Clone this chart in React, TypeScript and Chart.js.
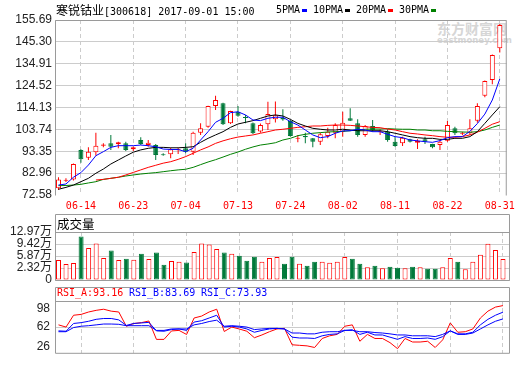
import React, { useEffect, useRef } from 'react';
import { Chart, registerables } from 'chart.js';

Chart.register(...registerables);

// ---------------- data ----------------
const dates = [
  '06-09', '06-12', '06-13', '06-14', '06-15', '06-16', '06-19', '06-20', '06-21', '06-22',
  '06-23', '06-26', '06-27', '06-28', '06-29', '06-30', '07-03', '07-04', '07-05', '07-06',
  '07-07', '07-10', '07-11', '07-12', '07-13', '07-14', '07-17', '07-18', '07-19', '07-20',
  '07-21', '07-24', '07-25', '07-26', '07-27', '07-28', '07-31', '08-01', '08-02', '08-03',
  '08-04', '08-07', '08-08', '08-09', '08-10', '08-11', '08-14', '08-15', '08-16', '08-17',
  '08-18', '08-21', '08-22', '08-23', '08-24', '08-25', '08-28', '08-29', '08-30', '08-31',
];

const openP = [
  75.8, 79.3, 80.0, 94.0, 90.3, 92.9, 96.0, 97.1, 96.8, 97.1,
  94.3, 98.7, 96.3, 96.3, 91.8, 91.9, 93.8, 94.75, 93.15, 102.2,
  105.0, 114.85, 116.1, 106.6, 112.1, 109.6, 106.6, 102.7, 106.2, 108.5,
  109.2, 107.7, 99.3, 100.6, 99.5, 97.9, 100.6, 102.2, 102.65, 109.0,
  106.6, 101.1, 105.35, 102.4, 102.65, 97.9, 97.1, 99.0, 97.4, 99.0,
  96.8, 96.3, 98.4, 104.25, 101.7, 101.9, 107.9, 119.7, 127.2, 142.25,
];
const highP = [
  81.0, 80.5, 87.5, 94.3, 95.2, 102.2, 97.1, 101.1, 97.9, 97.9,
  95.6, 100.0, 98.7, 96.8, 92.4, 95.0, 95.0, 97.1, 102.6, 106.6,
  115.0, 119.7, 116.4, 112.6, 114.85, 110.6, 107.0, 106.5, 116.9, 117.0,
  113.3, 108.2, 101.1, 102.2, 99.6, 102.2, 104.55, 106.6, 112.15, 113.75,
  108.5, 105.8, 108.2, 103.8, 103.8, 100.3, 100.3, 99.3, 99.0, 100.3,
  96.9, 98.7, 107.7, 105.0, 102.6, 108.5, 116.1, 126.9, 139.3, 153.8,
];
const lowP = [
  75.0, 78.8, 79.5, 87.9, 89.2, 91.2, 95.2, 93.95, 94.8, 93.5,
  93.5, 96.3, 95.5, 89.2, 91.2, 90.0, 92.0, 92.4, 91.6, 101.1,
  104.5, 112.95, 105.8, 106.3, 109.8, 106.6, 101.5, 102.2, 103.45, 107.0,
  107.9, 100.3, 97.6, 97.1, 95.2, 96.3, 99.5, 99.5, 100.3, 107.7,
  100.3, 100.3, 102.65, 101.1, 97.9, 95.5, 95.85, 97.5, 94.4, 96.8,
  94.75, 93.95, 97.9, 101.1, 101.0, 101.1, 106.9, 119.0, 125.2, 140.2,
];
const closeP = [
  80.0, 79.8, 87.3, 89.5, 93.15, 96.0, 96.6, 95.5, 97.6, 94.0,
  95.2, 96.8, 97.4, 91.6, 91.5, 94.3, 94.2, 93.15, 102.2, 104.25,
  114.85, 117.7, 106.2, 112.5, 110.2, 109.1, 101.9, 105.8, 111.05, 110.4,
  108.4, 100.6, 99.7, 100.0, 97.9, 101.4, 102.65, 105.8, 106.9, 107.9,
  101.1, 105.35, 103.45, 102.9, 98.7, 95.85, 99.8, 97.9, 98.4, 97.9,
  95.2, 97.9, 105.8, 101.9, 102.2, 104.25, 114.85, 126.7, 139.1, 153.3,
];

// volume in 万 (10k shares)
const volume = [
  5.39, 4.29, 4.57, 11.78, 8.68, 9.86, 5.94, 7.95, 5.39, 5.75,
  5.48, 7.12, 5.66, 7.40, 4.11, 5.11, 4.93, 4.75, 7.58, 9.86,
  9.59, 8.40, 7.40, 7.12, 6.58, 5.21, 6.30, 4.93, 5.94, 6.21,
  4.38, 6.30, 4.38, 3.84, 4.93, 4.93, 4.66, 4.93, 6.21, 5.75,
  4.38, 3.47, 3.84, 3.20, 3.56, 3.29, 3.20, 3.56, 3.47, 3.01,
  3.01, 3.47, 5.94, 4.93, 2.92, 4.93, 6.85, 9.77, 8.13, 5.66,
];

const ma5 = [
  77.3, 77.8, 81.0, 83.2, 86.8, 91.25, 93.15, 95.2, 96.0, 96.0,
  96.0, 96.3, 96.0, 95.5, 94.4, 94.2, 94.2, 93.15, 94.75, 98.7,
  102.65, 107.1, 109.0, 111.7, 112.1, 110.6, 108.2, 107.9, 109.0, 109.5,
  109.5, 107.4, 105.8, 103.45, 101.1, 99.8, 100.3, 101.9, 103.0, 103.1,
  103.8, 103.45, 102.65, 102.65, 101.4, 100.3, 99.8, 98.7, 98.3, 97.9,
  97.6, 98.4, 99.8, 100.3, 100.3, 102.8, 106.5, 111.0, 117.7, 127.7,
];
const ma10 = [
  75.3, 76.2, 77.3, 78.9, 80.5, 82.9, 84.9, 87.3, 89.2, 91.1,
  92.9, 94.0, 94.75, 95.2, 95.2, 95.0, 95.0, 95.2, 95.5, 97.6,
  99.5, 101.1, 102.65, 104.7, 106.3, 107.1, 107.9, 109.0, 110.1, 110.6,
  110.1, 108.5, 106.6, 105.35, 104.25, 103.8, 103.45, 103.45, 103.8, 103.45,
  103.1, 103.1, 103.1, 103.1, 102.65, 101.9, 101.1, 100.3, 99.8, 99.5,
  99.5, 99.0, 99.0, 99.5, 99.5, 100.3, 102.65, 106.6, 110.6, 114.5,
];
const ma20 = [
  null, null, null, null, null, 79.7, 80.0, 80.5, 81.0, 82.1,
  83.3, 84.5, 85.7, 86.7, 87.7, 88.4, 89.5, 90.8, 92.4, 94.0,
  95.4, 97.1, 98.3, 99.3, 100.1, 100.6, 101.1, 101.9, 102.65, 103.45,
  103.8, 104.25, 104.7, 105.0, 105.35, 105.35, 105.65, 105.8, 105.8, 105.65,
  105.35, 105.0, 104.7, 104.55, 103.9, 103.45, 102.65, 101.9, 101.55, 101.1,
  100.75, 100.3, 100.0, 100.0, 100.3, 101.1, 102.4, 104.25, 106.2, 107.4,
];
const ma30 = [
  77.0, 77.1, 77.3, 77.65, 78.3, 78.9, 80.0, 80.5, 81.0, 81.6,
  82.1, 82.55, 82.9, 83.2, 83.65, 84.1, 84.5, 84.8, 85.7, 87.0,
  88.25, 89.35, 90.6, 91.9, 93.0, 94.3, 95.4, 96.3, 96.8, 97.4,
  98.7, 99.5, 100.75, 101.4, 101.9, 102.2, 102.5, 102.65, 102.8, 103.1,
  103.45, 103.8, 103.9, 103.9, 104.1, 103.9, 103.8, 103.8, 103.45, 103.45,
  103.1, 103.1, 102.8, 102.65, 102.5, 102.4, 102.65, 103.45, 104.7, 105.8,
];

const rsiA = [
  65.3, 62.1, 79.2, 80.4, 83.9, 86.3, 87.9, 85.1, 83.9, 63.3,
  67.3, 68.5, 70.9, 44.3, 44.3, 56.5, 57.3, 51.4, 75.2, 78.0,
  83.9, 87.9, 55.7, 62.1, 59.3, 56.1, 46.7, 50.7, 55.4, 59.4,
  60.2, 36.5, 35.7, 34.9, 32.6, 45.6, 49.5, 51.5, 63.3, 65.3,
  41.6, 51.5, 45.6, 45.6, 39.6, 30.9, 45.6, 40.5, 40.5, 41.6,
  32.6, 43.7, 68.1, 54.6, 55.4, 59.4, 75.2, 85.1, 91.0, 93.16,
];
const rsiB = [
  56.6, 56.1, 67.3, 68.5, 70.5, 73.3, 74.5, 74.5, 72.5, 64.5,
  67.3, 68.1, 68.9, 56.6, 56.1, 58.5, 59.4, 57.3, 69.3, 71.3,
  75.2, 79.2, 62.1, 63.3, 62.1, 59.4, 54.6, 57.3, 59.4, 60.2,
  59.4, 47.5, 46.3, 46.3, 45.6, 49.5, 51.5, 52.3, 57.3, 58.2,
  51.5, 54.6, 50.7, 50.7, 47.5, 44.4, 48.3, 45.6, 45.6, 46.3,
  44.4, 48.3, 56.6, 52.3, 52.3, 54.6, 65.3, 73.3, 79.2, 83.69,
];
const rsiC = [
  55.4, 55.4, 61.4, 63.3, 64.1, 65.3, 66.5, 66.5, 66.1, 64.1,
  64.1, 64.1, 64.1, 57.3, 57.3, 59.4, 59.4, 59.4, 65.3, 67.3,
  70.1, 72.1, 63.3, 64.1, 63.3, 62.1, 58.5, 59.4, 60.2, 60.2,
  59.4, 53.5, 53.5, 52.3, 52.3, 54.6, 55.4, 55.4, 57.3, 57.3,
  55.4, 55.4, 54.2, 53.5, 52.3, 50.7, 50.7, 49.5, 49.5, 49.5,
  48.3, 51.5, 56.6, 51.5, 51.5, 53.5, 59.4, 65.3, 70.5, 73.93,
];

const dateTickIdx = [3, 10, 17, 24, 31, 38, 45, 52, 59];
const priceTicks = [155.69, 145.30, 134.91, 124.52, 114.13, 103.74, 93.35, 82.96, 72.58];
const priceTickLabels = ['155.69', '145.30', '134.91', '124.52', '114.13', '103.74', '93.35', '82.96', '72.58'];
const volMax = 12.97;
const volTickLabels = ['0', '2.32万', '5.87万', '9.42万', '12.97万'];
const rsiMin = 24.9;
const rsiMax = 99.8;
const rsiTickPos = [89.1, 62, 34.4];
const rsiTickLabels = ['98', '62', '26'];

// ---------------- styles ----------------
const RED = '#ff0000';
const GREEN = '#00793a';
const BLUE = '#0000ff';
const MA30C = '#008000';
const GRID = '#cccccc';
const FRAME = '#9a9a9a';
const MONO = '"DejaVu Sans Mono", "Liberation Mono", monospace';
const SANS = '"Liberation Sans", "Noto Sans CJK SC", sans-serif';

const X_MIN = -0.4646;
const X_MAX = 59.93;

const isUp = closeP.map((c, i) => c >= openP[i]);

function xScale(showLabels: boolean): any {
  return {
    type: 'linear',
    min: X_MIN,
    max: X_MAX,
    offset: false,
    afterBuildTicks: (s: any) => {
      s.ticks = dateTickIdx.map((v) => ({ value: v }));
    },
    afterFit: (s: any) => {
      s.height = showLabels ? 20 : 0;
    },
    grid: { color: GRID, drawTicks: false, offset: false, lineWidth: 1 },
    border: { display: false, dash: [4, 3] },
    ticks: {
      display: showLabels,
      autoSkip: false,
      maxRotation: 0,
      padding: 5,
      color: RED,
      font: { family: MONO, size: 10 },
      callback: (v: any) => dates[Math.round(v)] ?? '',
    },
  };
}

function yTicks(labels: string[], padding: number): any {
  return {
    autoSkip: false,
    padding,
    color: '#222',
    font: { family: SANS, size: 12 },
    callback: (_v: any, idx: number) => labels[idx],
  };
}

function frame(headerH: number, drawBottom: boolean) {
  return {
    id: 'frame' + headerH,
    afterDraw(chart: any) {
      const { ctx, chartArea: a } = chart;
      const L = a.left + 0.5;
      const R = a.right - 0.5;
      const T = a.top + 0.5;
      const B = a.bottom + 0.5;
      const top = T - headerH;
      ctx.save();
      ctx.strokeStyle = FRAME;
      ctx.lineWidth = 1;
      ctx.beginPath();
      ctx.moveTo(L, top);
      ctx.lineTo(R, top);
      ctx.moveTo(L, top);
      ctx.lineTo(L, B);
      ctx.moveTo(R, top);
      ctx.lineTo(R, B);
      if (headerH > 0) {
        ctx.moveTo(L, T);
        ctx.lineTo(R, T);
      }
      if (drawBottom) {
        ctx.moveTo(L, B);
        ctx.lineTo(R, B);
      }
      ctx.stroke();
      ctx.restore();
    },
  };
}

const baseOpts = {
  responsive: false,
  animation: false,
  devicePixelRatio: 1,
  events: [],
  plugins: { legend: { display: false }, tooltip: { enabled: false }, title: { display: false } },
};

function lineDs(label: string, arr: (number | null)[], color: string, order = 0): any {
  return {
    type: 'line',
    label,
    order,
    data: arr.map((v, i) => ({ x: i, y: v })),
    borderColor: color,
    borderWidth: 1,
    pointRadius: 0,
    tension: 0,
    fill: false,
    spanGaps: false,
  };
}

function priceConfig(): any {
  return {
    type: 'bar',
    data: {
      datasets: [
        lineDs('MA5', ma5, BLUE),
        lineDs('MA10', ma10, '#000000'),
        lineDs('MA20', ma20, RED),
        lineDs('MA30', ma30, MA30C),
        {
          type: 'bar',
          label: 'body',
          order: 1,
          grouped: false,
          data: dates.map((_, i) => ({ x: i, y: [openP[i], closeP[i]] })),
          backgroundColor: isUp.map((u, i) =>
            u ? (Math.abs(closeP[i] - openP[i]) < 0.5 ? RED : '#ffffff') : GREEN
          ),
          borderColor: isUp.map((u) => (u ? RED : GREEN)),
          borderWidth: 1,
          borderSkipped: false,
          barThickness: 5,
          minBarLength: 1,
          inflateAmount: 0,
        },
        {
          type: 'bar',
          label: 'wick',
          order: 2,
          grouped: false,
          data: dates.map((_, i) => ({ x: i, y: [lowP[i], highP[i]] })),
          backgroundColor: isUp.map((u) => (u ? RED : GREEN)),
          borderWidth: 0,
          barThickness: 1,
          inflateAmount: 0,
        },
      ],
    },
    options: {
      ...baseOpts,
      layout: { padding: { top: 20, right: 10, bottom: 150, left: 0 } },
      scales: {
        x: xScale(true),
        y: {
          type: 'linear',
          position: 'left',
          min: 72.58,
          max: 155.69,
          beginAtZero: false,
          afterBuildTicks: (s: any) => {
            s.ticks = priceTicks.map((v) => ({ value: v }));
          },
          afterFit: (s: any) => {
            s.width = 55;
          },
          grid: {
            drawTicks: false,
            color: (c: any) => (c.index === priceTicks.length - 1 ? 'rgba(0,0,0,0)' : GRID),
          },
          border: { display: false },
          ticks: yTicks(priceTickLabels, 3),
        },
      },
    },
    plugins: [frame(0, false)],
  };
}

function volumeConfig(): any {
  return {
    type: 'bar',
    data: {
      datasets: [
        {
          type: 'bar',
          label: 'vol',
          grouped: false,
          data: volume.map((v, i) => ({ x: i, y: v })),
          backgroundColor: isUp.map((u) => (u ? '#ffffff' : GREEN)),
          borderColor: isUp.map((u) => (u ? RED : GREEN)),
          borderWidth: 1,
          borderSkipped: false,
          barThickness: 5,
          inflateAmount: 0,
        },
      ],
    },
    options: {
      ...baseOpts,
      layout: { padding: { top: 232, right: 10, bottom: 85, left: 0 } },
      scales: {
        x: xScale(false),
        y: {
          type: 'linear',
          position: 'left',
          min: 0,
          max: volMax,
          afterBuildTicks: (s: any) => {
            s.ticks = volTickLabels.map((_, k) => ({ value: (volMax * k) / (volTickLabels.length - 1) }));
          },
          afterFit: (s: any) => {
            s.width = 55;
          },
          grid: { color: GRID, drawTicks: false },
          border: { display: false },
          ticks: yTicks(volTickLabels, 3),
        },
      },
    },
    plugins: [frame(18, true)],
  };
}

function rsiConfig(): any {
  return {
    type: 'line',
    data: {
      datasets: [
        lineDs('RSI_C', rsiC, BLUE),
        lineDs('RSI_B', rsiB, BLUE),
        lineDs('RSI_A', rsiA, RED),
      ],
    },
    options: {
      ...baseOpts,
      layout: { padding: { top: 301, right: 10, bottom: 1, left: 0 } },
      scales: {
        x: xScale(false),
        y: {
          type: 'linear',
          position: 'left',
          min: rsiMin,
          max: rsiMax,
          afterBuildTicks: (s: any) => {
            s.ticks = rsiTickPos.map((v) => ({ value: v }));
          },
          afterFit: (s: any) => {
            s.width = 55;
          },
          grid: {
            drawTicks: false,
            color: (c: any) => (c.index === 1 ? GRID : 'rgba(0,0,0,0)'),
          },
          border: { display: false },
          ticks: yTicks(rsiTickLabels, 5),
        },
      },
    },
    plugins: [frame(14, true)],
  };
}

const abs = (left: number, top: number, extra: React.CSSProperties = {}): React.CSSProperties => ({
  position: 'absolute',
  left,
  top,
  whiteSpace: 'nowrap',
  margin: 0,
  padding: 0,
  ...extra,
});

const monoText: React.CSSProperties = { fontFamily: MONO, fontSize: 10, lineHeight: '12px' };

const legendItems = [
  { text: '5PMA', color: BLUE, x: 276 },
  { text: '10PMA', color: '#000000', x: 313 },
  { text: '20PMA', color: RED, x: 356 },
  { text: '30PMA', color: MA30C, x: 399 },
];

export default function App() {
  const pRef = useRef<HTMLCanvasElement>(null);
  const vRef = useRef<HTMLCanvasElement>(null);
  const rRef = useRef<HTMLCanvasElement>(null);

  useEffect(() => {
    const charts: Chart[] = [];
    if (pRef.current) charts.push(new Chart(pRef.current, priceConfig()));
    if (vRef.current) charts.push(new Chart(vRef.current, volumeConfig()));
    if (rRef.current) charts.push(new Chart(rRef.current, rsiConfig()));
    return () => charts.forEach((c) => c.destroy());
  }, []);

  const cv: React.CSSProperties = { position: 'absolute', left: 0, top: 0, width: 520, height: 365 };

  return (
    <div style={{ position: 'absolute', left: 0, top: 0, width: 520, height: 365, background: '#fff', overflow: 'hidden' }}>
      {/* watermark */}
      <div style={abs(437, 20, { fontFamily: '"Noto Sans CJK SC", sans-serif', fontWeight: 700, fontSize: 14, lineHeight: '16px', color: '#d6d6d6' })}>
        东方财富网
      </div>
      <div style={abs(437, 35, { fontFamily: '"DejaVu Sans", sans-serif', fontWeight: 700, fontSize: 8.5, lineHeight: '10px', color: '#d6d6d6' })}>
        eastmoney.com
      </div>

      <canvas ref={pRef} width={520} height={365} style={cv} />
      <canvas ref={vRef} width={520} height={365} style={cv} />
      <canvas ref={rRef} width={520} height={365} style={cv} />

      {/* title */}
      <div style={abs(56, 4, { ...monoText, color: '#000' })}>
        <span style={{ fontFamily: '"Noto Sans CJK SC", sans-serif', fontSize: 12 }}>寒锐钴业</span>
        <span>[300618] 2017-09-01 15:00</span>
      </div>
      {legendItems.map((it) => (
        <div key={it.text} style={abs(it.x, 4, { ...monoText, color: '#000' })}>
          {it.text}
          <span style={{ display: 'inline-block', width: 5, height: 3, background: it.color, marginLeft: 2, verticalAlign: 'middle' }} />
        </div>
      ))}

      {/* volume header */}
      <div style={abs(57, 216, { fontFamily: '"Noto Sans CJK SC", sans-serif', fontSize: 12.5, lineHeight: '15px', color: '#000' })}>
        成交量
      </div>

      {/* RSI header */}
      <div style={abs(57, 287, { ...monoText, color: RED })}>RSI_A:93.16</div>
      <div style={abs(129, 287, { ...monoText, color: BLUE })}>RSI_B:83.69</div>
      <div style={abs(201, 287, { ...monoText, color: BLUE })}>RSI_C:73.93</div>
    </div>
  );
}
